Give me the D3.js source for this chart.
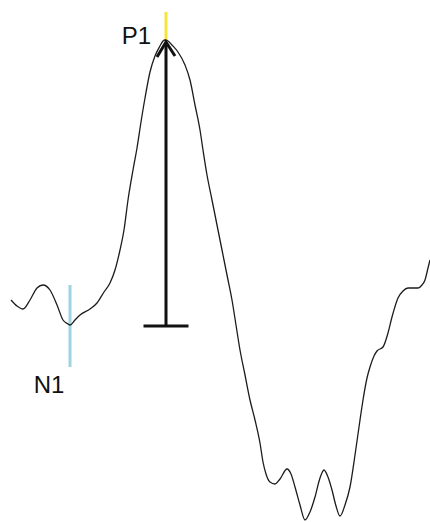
<!DOCTYPE html>
<html>
<head>
<meta charset="utf-8">
<script src="https://cdn.jsdelivr.net/npm/d3@7"></script>
<style>
  html, body { margin: 0; padding: 0; background: #fff; }
  svg { display: block; }
</style>
</head>
<body>
<div id="chart"></div>
<script>
// Waveform: time (ms) and amplitude (µV, arbitrary)
const times = [0.5,3.5,6.5,10,13.5,16.5,20,23.5,26.5,29,
  30,32.5,35,40,43.5,47,50,52.5,55,57,
  59,61.5,63.5,65.5,67.5,70,72.5,75,76.5,77.5,
  79,81,84,87.5,90,92.5,95,96.5,98.5,101,
  103.5,106,108.5,111,113,115,117.5,120,122.5,125,
  126.5,128,130,132.5,135,138.5,140.5,142.5,145,147.5,
  150,152.5,155,157,159,161,163,165,167.5,170,
  172.5,175,176.5,178.5,180,182,183.5,186.5,189,191,
  194,196.5,199,201.5,204,206,207.5,209,210];
const amps = [10,9.4,9.1,10,11.2,11.5,11,9.5,8,7.6,
  7.5,8,8.5,9.1,9.7,10.8,11.7,13,15,17,
  20,23,25.2,27.8,30.2,32.8,34.4,35.4,35.9,36,
  35.9,35.5,34.8,33.5,32,29.5,27,25,22.5,20,
  17.5,15,12.5,10,7.5,5,2.5,0,-2,-4.3,
  -6.2,-7.4,-8.2,-8.4,-7.9,-6.9,-7.4,-8.7,-10.5,-12,
  -11.2,-9.7,-7.8,-7,-7.7,-9,-10.6,-11.6,-10.5,-8.7,
  -5.5,-2,0,2.2,3.3,4.4,4.9,5.3,6.7,8.3,
  10.2,10.9,11.2,11.2,11.2,11.5,12,13.2,14];

// Components
const peakNames = ["P1", "N1"];
const peakTimes = [78, 30];
const peakLineFrom = [36, 11.5];
const peakLineTo = [38.8, 3.3];
const peakColors = ["#f3e63a", "#9fd3e2"];

// Amplitude arrow (P1 amplitude measured from N1 level)
const arrowTime = 78;
const arrowBase = 7.4;
const arrowTop = 35.8;
const capHalf = 11.25;

const W = 430, H = 522;
const x = d3.scaleLinear().domain([-5, 210]).range([0, W]);
const y = d3.scaleLinear().domain([40, -12.2]).range([0, H]);

const svg = d3.select("#chart").append("svg")
  .attr("width", W).attr("height", H);

// component marker lines
peakNames.forEach((n, i) => {
  svg.append("line")
    .attr("x1", x(peakTimes[i])).attr("x2", x(peakTimes[i]))
    .attr("y1", y(peakLineFrom[i])).attr("y2", y(peakLineTo[i]))
    .attr("stroke", peakColors[i]).attr("stroke-width", 3);
});

// waveform
const data = times.map((t, i) => [t, amps[i]]);
svg.append("path")
  .datum(data)
  .attr("fill", "none")
  .attr("stroke", "#1c1c1c")
  .attr("stroke-width", 1.3)
  .attr("d", d3.line().x(d => x(d[0])).y(d => y(d[1])).curve(d3.curveMonotoneX));

// amplitude arrow
const g = svg.append("g").attr("stroke", "#111").attr("stroke-width", 3).attr("fill", "none");
g.append("line")
  .attr("x1", x(arrowTime)).attr("x2", x(arrowTime))
  .attr("y1", y(arrowBase)).attr("y2", y(arrowTop));
g.append("line")
  .attr("x1", x(arrowTime - capHalf)).attr("x2", x(arrowTime + capHalf))
  .attr("y1", y(arrowBase)).attr("y2", y(arrowBase));
g.append("path")
  .attr("stroke-linejoin", "miter")
  .attr("d", d3.line()([
    [x(arrowTime - 4.5), y(34.3)],
    [x(arrowTime), y(arrowTop)],
    [x(arrowTime + 4.5), y(34.4)]
  ]));

// labels
svg.append("text")
  .attr("x", x(peakTimes[0]) - 15).attr("y", 44)
  .attr("text-anchor", "end")
  .attr("font-family", "Liberation Sans, Arial, sans-serif")
  .attr("font-size", 24).attr("fill", "#111")
  .text(peakNames[0]);
svg.append("text")
  .attr("x", x(peakTimes[1]) - 21).attr("y", 393)
  .attr("text-anchor", "middle")
  .attr("font-family", "Liberation Sans, Arial, sans-serif")
  .attr("font-size", 24).attr("fill", "#111")
  .text(peakNames[1]);
</script>
</body>
</html>
